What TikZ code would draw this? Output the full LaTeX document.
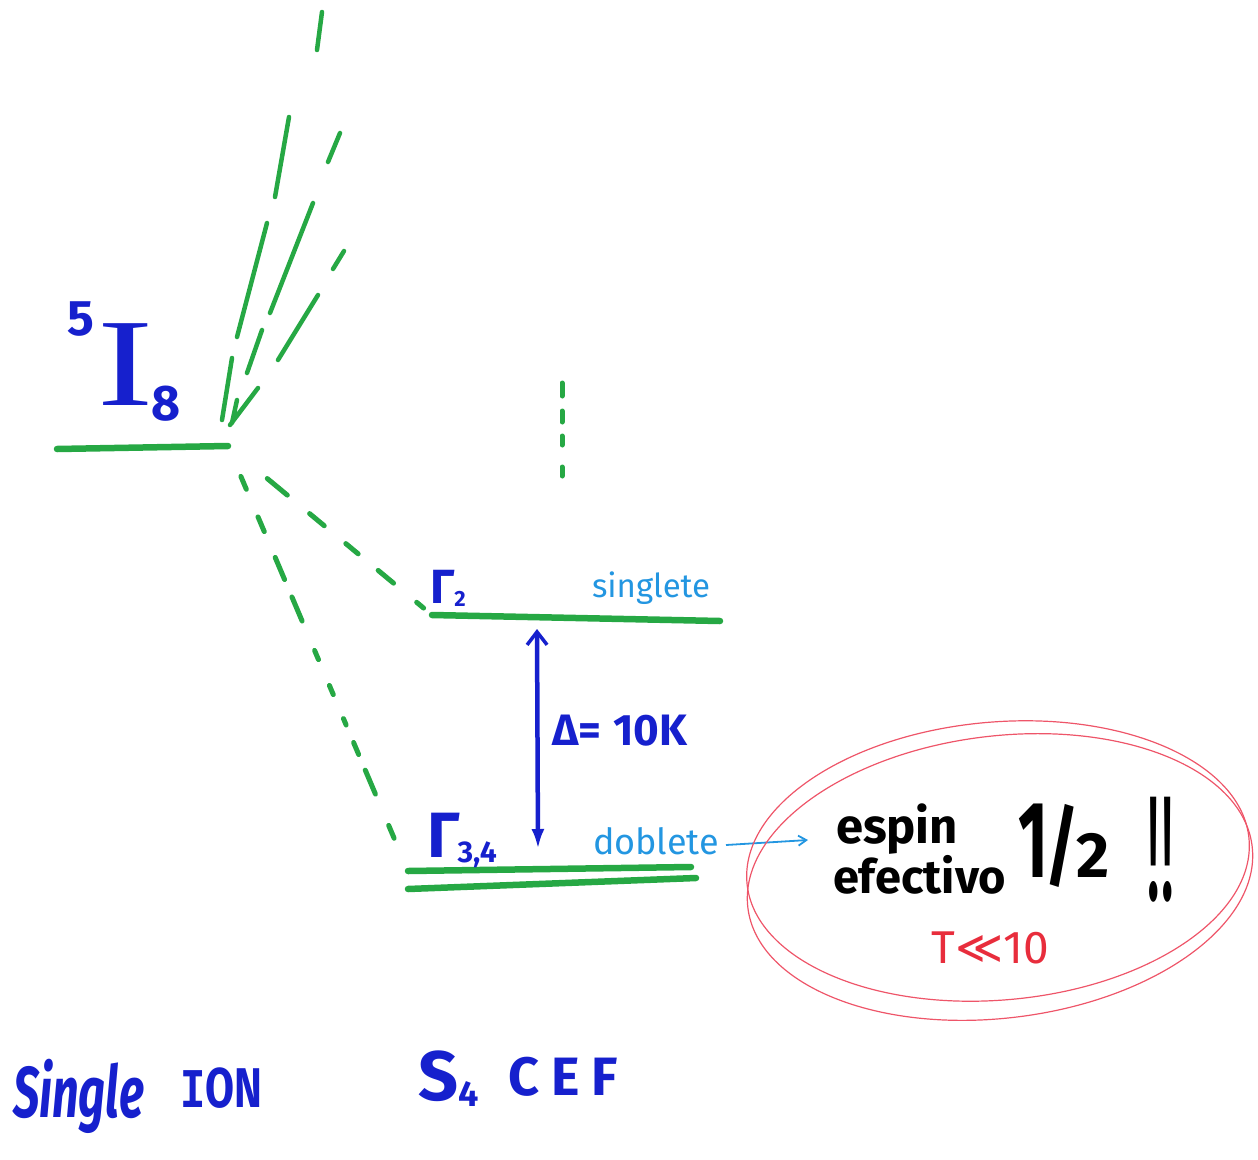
\documentclass[tikz,border=0pt]{standalone}
\usepackage{fontspec}
\setmainfont{Fira Sans}
\newfontfamily\monof{Liberation Mono}
\newfontfamily\seriff{Liberation Serif}
\newfontfamily\djv{DejaVu Sans}
\usetikzlibrary{arrows.meta}
\definecolor{lvgreen}{RGB}{38,168,68}
\definecolor{inkblue}{RGB}{22,32,205}
\definecolor{skyblue}{RGB}{35,150,225}
\definecolor{inkred}{RGB}{232,45,60}
\definecolor{ringred}{RGB}{238,85,105}
\newcommand{\fsz}[1]{\fontsize{#1}{#1}\selectfont}
\begin{document}
\begin{tikzpicture}[x=1pt,y=-1pt,
  level/.style={lvgreen, line width=6.5pt, line cap=round},
  dashgreen/.style={lvgreen, line width=5pt, line cap=round},
  fan/.style={lvgreen, line width=4.5pt, line cap=round},
  lbl/.style={inner sep=0pt, outer sep=0pt},
  ring/.style={ringred, line width=1.2pt}]
\useasboundingbox (0,0) rectangle (1258,1159);

% energy levels
\coordinate (Il) at (57,449);   \coordinate (Ir) at (228,446);
\coordinate (G2l) at (432,615); \coordinate (G2r) at (720,621);
\coordinate (G34al) at (408,871); \coordinate (G34ar) at (691,867);
\coordinate (G34bl) at (408,889); \coordinate (G34br) at (696,878);
\draw[level] (Il) -- (Ir);
\draw[level] (G2l) -- (G2r);
\draw[level] (G34al) -- (G34ar);
\draw[level] (G34bl) -- (G34br);

% dashed connectors down
\draw[dashgreen, shorten <=51pt, dash pattern=on 26pt off 29pt on 19pt off 28pt on 16pt off 26pt on 20pt off 30pt on 9pt off 100pt] (Ir) -- (G2l);
\draw[dashgreen, shorten <=33pt, dash pattern=on 14pt off 30pt on 16pt off 28pt on 24pt off 19pt on 26pt off 32pt on 10pt off 28pt on 10pt off 26pt on 7pt off 19pt on 13pt off 17pt on 26pt off 34pt on 14pt off 100pt] (Ir) -- (G34al);

% fan of higher levels
\draw[fan] (322,12) -- (317,50)
  (289,117) -- (275,197)
  (340,133) -- (328,162)
  (267,223) -- (237,337)
  (313,203) -- (270,313)
  (344,251) -- (333,269)
  (318,295) -- (278,360)
  (262,330) -- (247,373)
  (232,358) -- (222,420)
  (258,388) -- (230,425)
  (237,400) -- (232,423);

% dotted vertical
\draw[fan, line width=5pt] (562,383) -- (562,396) (562,411) -- (562,422) (562,436) -- (562,445) (562,467) -- (562,476);

% gap arrow
\coordinate (Dtop) at (537,629); \coordinate (Dbot) at (538,849);
\draw[inkblue, line width=4.5pt, {Straight Barb[length=13pt,width=20pt,line width=3.5pt]}-{Latex[length=20pt,width=13pt]}] (Dtop) -- (Dbot);
\node[lbl, inkblue, anchor=base west, font=\bfseries\fsz{44}] (delta) at (552,745) {Δ=\kern12pt 10K};

% term symbol
\node[lbl, inkblue, anchor=base west] (term) at (67,405)
  {\raisebox{70pt}{\bfseries\fsz{50}5}\kern4pt\scalebox{1.35}[1]{\seriff\fsz{125}I}\kern-2pt\raisebox{-15pt}{\bfseries\fsz{50}8}};

\node[lbl, inkblue, anchor=base west, font=\bfseries\fsz{48}] (G2lab) at (430,603) {Γ\kern0pt\raisebox{-3pt}{\fsz{22}2}};
\node[lbl, inkblue, anchor=base west, font=\bfseries\fsz{64}] (G34lab) at (427,857) {Γ\kern-2pt\raisebox{-5pt}{\fsz{30}3,4}};
\node[lbl, skyblue, anchor=base west, font=\fsz{33}] (sing) at (592,597) {singlete};
\node[lbl, skyblue, anchor=base west, font=\fsz{36}] (dobl) at (593,854) {doblete};

% pointer to the circled remark
\coordinate (ptr) at (808,840);
\draw[skyblue, line width=1.8pt, -{Straight Barb[length=8pt,width=10pt]}] (726,845) -- (ptr);

% circled remark
\draw[ring, rotate around={5:(998,861)}] (998,861) ellipse [x radius=252, y radius=139];
\draw[ring, rotate around={7:(1000,877)}] (1000,877) ellipse [x radius=254, y radius=141];
\node[lbl, anchor=base west, font=\bfseries\fsz{49}] (espin) at (836,843) {espin};
\node[lbl, anchor=base west, font=\bfseries\fsz{47}] (efect) at (833,893) {efectivo};
\node[lbl, anchor=base west, font=\bfseries\fsz{64}] (half) at (1018,877) {\scalebox{1}[1.7]{1}\kern-2pt\scalebox{1}[1.4]{/}\kern-2pt 2};
\node[lbl, anchor=base west, font=\fsz{150}] (bang) at (1146,900) {\scalebox{0.4}[1]{!!}};
\node[lbl, inkred, font=\fsz{46}] (temp) at (990,948) {T{\djv ≪}10};

% bottom titles
\node[lbl, inkblue, anchor=base west, font=\bfseries\itshape\fsz{72}] (single) at (13,1117) {\scalebox{0.65}[1]{Single}};
\node[lbl, inkblue, anchor=base west, font=\bfseries\fsz{56}] (ion) at (180,1107) {\scalebox{0.75}[1]{{\monof I}ON}};
\node[lbl, inkblue, anchor=base west, font=\bfseries\fsz{70}] (s4) at (418,1100) {S\raisebox{-6pt}{\fsz{36}4}};
\node[lbl, inkblue, anchor=base west, font=\bfseries\fsz{54}] (cef) at (508,1095) {C\kern12pt E\kern12pt F};
\end{tikzpicture}
\end{document}
